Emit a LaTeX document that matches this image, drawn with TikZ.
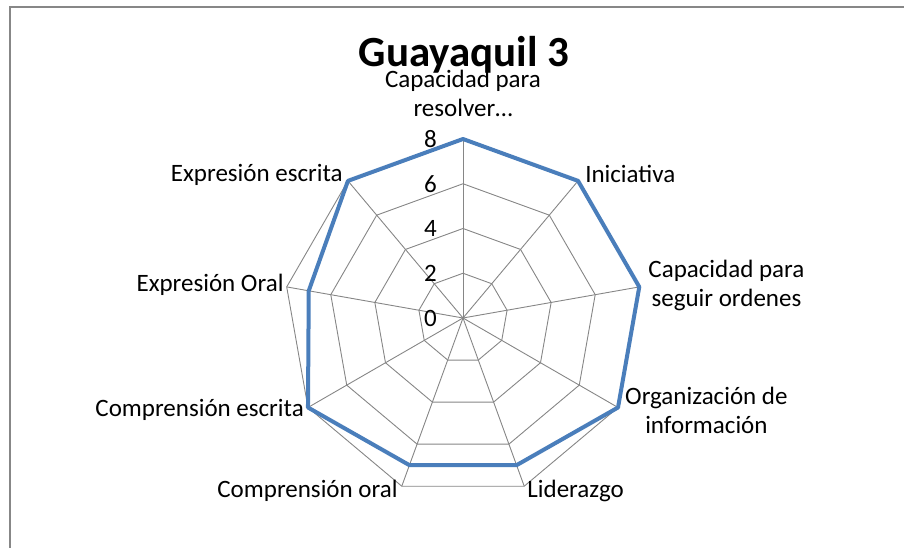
\documentclass[tikz,border=0pt]{standalone}
\usepackage{fontspec}
\setmainfont{Carlito}
\usepackage{xcolor}
\usetikzlibrary{positioning}
\definecolor{serie}{RGB}{74,126,187}
\definecolor{rejilla}{RGB}{134,134,134}
\definecolor{marco}{RGB}{135,135,135}
\tikzset{radar/.style={x=1pt, y=1pt, font=\fontsize{25}{29}\selectfont},
eje/.style={inner sep=0pt, align=center},
rejilla/.style={draw=rejilla, line width=0.9pt},
serie/.style={draw=serie, line width=4pt, line join=round}}

\begin{document}
\begin{tikzpicture}[radar, tick/.style={inner sep=0pt, anchor=base east}]
	\useasboundingbox (-463,-230) rectangle (441,318);
	\coordinate (o) at (0,0);
	\draw[marco, line width=2pt] (-453,-230) -- (-453,311) -- (441,311);
	\node[font=\bfseries\fontsize{43}{43}\selectfont, anchor=base] (titulo) at (1,251) {Guayaquil 3};
	\foreach \i in {0,...,8}
		\coordinate (a\i) at ({90-40*\i}:179);
	\foreach \r in {1,...,4}
		\draw[rejilla] (90:\r*44.75) \foreach \i in {1,...,8} { -- ({90-40*\i}:\r*44.75) } -- cycle;
	\foreach \i in {0,...,8}
		\draw[rejilla] (o) -- (a\i);
	\foreach \v [count=\i from 0] in {8,8,8,8,7,7,8,7,8}
		\coordinate (d\i) at ({90-40*\i}:\v*22.375);
	\draw[serie] (d0) \foreach \i in {1,...,8} { -- (d\i) } -- cycle;
	\foreach \t [count=\k from 0] in {0,2,4,6,8}
		\node[tick] (t\k) at (-26,\k*44.75-8.5) {\t};
	\node[eje, anchor=south] (l0) at ([yshift=22]a0) {Capacidad para\\resolver…};
	\node[eje, anchor=base west] (l1) at ([shift={(7,-2)}]a1) {Iniciativa};
	\node[eje, anchor=west] (l2) at ([shift={(9,1)}]a2) {Capacidad para\\seguir ordenes};
	\node[eje, anchor=west] (l3) at ([shift={(7,-2.5)}]a3) {Organización de\\información};
	\node[eje, anchor=base west] (l4) at ([shift={(3,-11)}]a4) {Liderazgo};
	\node[eje, anchor=base east] (l5) at ([shift={(-4,-11)}]a5) {Comprensión oral};
	\node[eje, anchor=base east] (l6) at ([shift={(-4,-9.5)}]a6) {Comprensión escrita};
	\node[eje, anchor=base east] (l7) at ([shift={(-3,-5)}]a7) {Expresión Oral};
	\node[eje, anchor=base east] (l8) at ([shift={(-5,-1)}]a8) {Expresión escrita};
\end{tikzpicture}
\end{document}
